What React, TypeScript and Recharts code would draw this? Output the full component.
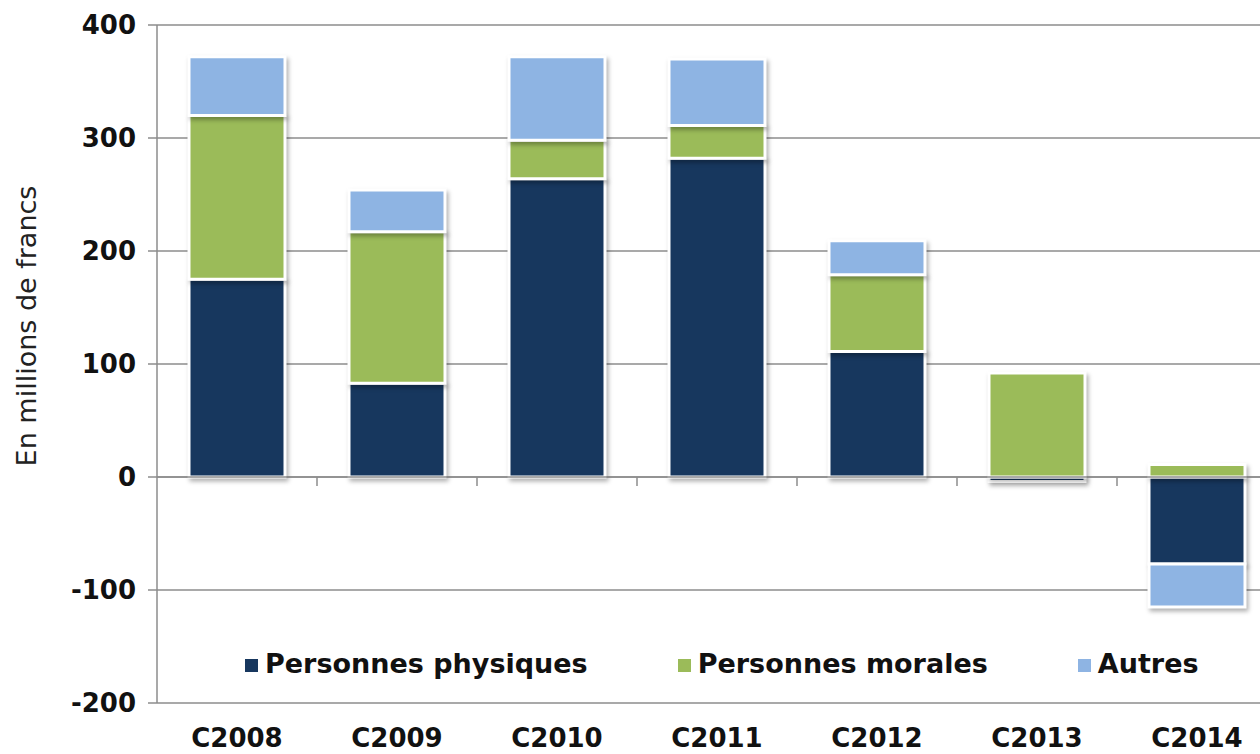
import React from 'react';
import { BarChart, Bar, XAxis, YAxis, CartesianGrid, ReferenceLine, Legend } from 'recharts';

const CATEGORIES = ['C2008', 'C2009', 'C2010', 'C2011', 'C2012', 'C2013', 'C2014'];
const PERSONNES_PHYSIQUES = [175, 83, 264, 282, 111, -4, -77];
const PERSONNES_MORALES = [145, 134, 34, 29, 68, 92, 11];
const AUTRES = [52, 37, 74, 59, 30, 0, -38];
const Y_TICKS = [-200, -100, 0, 100, 200, 300, 400];

const SERIES = [
  { key: 'pp', name: 'Personnes physiques', color: '#17375E' },
  { key: 'pm', name: 'Personnes morales', color: '#9BBB59' },
  { key: 'autres', name: 'Autres', color: '#8EB4E3' },
];

const data = CATEGORIES.map((cat, i) => ({
  cat,
  pp: PERSONNES_PHYSIQUES[i],
  pm: PERSONNES_MORALES[i],
  autres: AUTRES[i],
}));

const FONT = '"DejaVu Sans", Arial, sans-serif';
const GRID = '#8C8C8C';

// zero line drawn as the category axis, with tick marks between categories
const ZeroAxis = (props: any) => {
  const { x1, y1, x2 } = props;
  const step = (x2 - x1) / CATEGORIES.length;
  const marks = [];
  for (let i = 1; i <= CATEGORIES.length; i++) {
    const x = x1 + i * step;
    marks.push(<line key={i} x1={x} x2={x} y1={y1} y2={y1 + 9} stroke={GRID} strokeWidth={1.5} />);
  }
  return (
    <g>
      <line x1={x1} x2={x2} y1={y1} y2={y1} stroke={GRID} strokeWidth={1.5} />
      {marks}
    </g>
  );
};

const LegendBox = () => (
  <div style={{ display: 'flex', gap: 90, paddingLeft: 245, fontFamily: FONT, fontWeight: 'bold', fontSize: 27, color: '#111' }}>
    {SERIES.map((s) => (
      <div key={s.key} style={{ display: 'flex', alignItems: 'center' }}>
        <span style={{ display: 'inline-block', width: 13, height: 13, background: s.color, marginRight: 7, marginTop: 3 }} />
        <span>{s.name}</span>
      </div>
    ))}
  </div>
);

const YLabel = () => (
  <text
    x={36}
    y={326}
    transform="rotate(-90 36 326)"
    textAnchor="middle"
    style={{ fontFamily: FONT, fontSize: 27, fill: '#222' }}
  >
    En millions de francs
  </text>
);

export default function App() {
  return (
    <div style={{ position: 'fixed', top: 0, left: 0, width: 1260, height: 754, overflow: 'hidden', background: '#fff' }}>
      <style>{`.recharts-bar-rectangle { filter: drop-shadow(2px 3px 2px rgba(0,0,0,0.3)); }`}</style>
      <BarChart
        width={1290}
        height={754}
        data={data}
        stackOffset="sign"
        barSize={96}
        margin={{ top: 25, right: 13, bottom: 0, left: 0 }}
      >
        <CartesianGrid vertical={false} stroke={GRID} strokeWidth={1.5} />
        <XAxis
          dataKey="cat"
          height={51}
          axisLine={false}
          tickLine={false}
          tickMargin={20}
          interval={0}
          tick={{ fontFamily: FONT, fontWeight: 'bold', fontSize: 26, fill: '#111' }}
        />
        <YAxis
          width={157}
          domain={[-200, 400]}
          ticks={Y_TICKS}
          interval={0}
          axisLine={{ stroke: GRID, strokeWidth: 1.5 }}
          tickLine={{ stroke: GRID, strokeWidth: 1.5 }}
          tickSize={9}
          tickMargin={12}
          tick={{ fontFamily: FONT, fontWeight: 'bold', fontSize: 26, fill: '#111' }}
          label={<YLabel />}
        />
        {SERIES.map((s) => (
          <Bar
            key={s.key}
            dataKey={s.key}
            name={s.name}
            stackId="a"
            fill={s.color}
            stroke="#FFFFFF"
            strokeWidth={3}
            isAnimationActive={false}
          />
        ))}
        <ReferenceLine y={0} shape={<ZeroAxis />} />
        <Legend
          layout="horizontal"
          verticalAlign="middle"
          align="center"
          content={<LegendBox />}
          wrapperStyle={{ top: 648, left: 0, width: 1290 }}
        />
      </BarChart>
    </div>
  );
}
